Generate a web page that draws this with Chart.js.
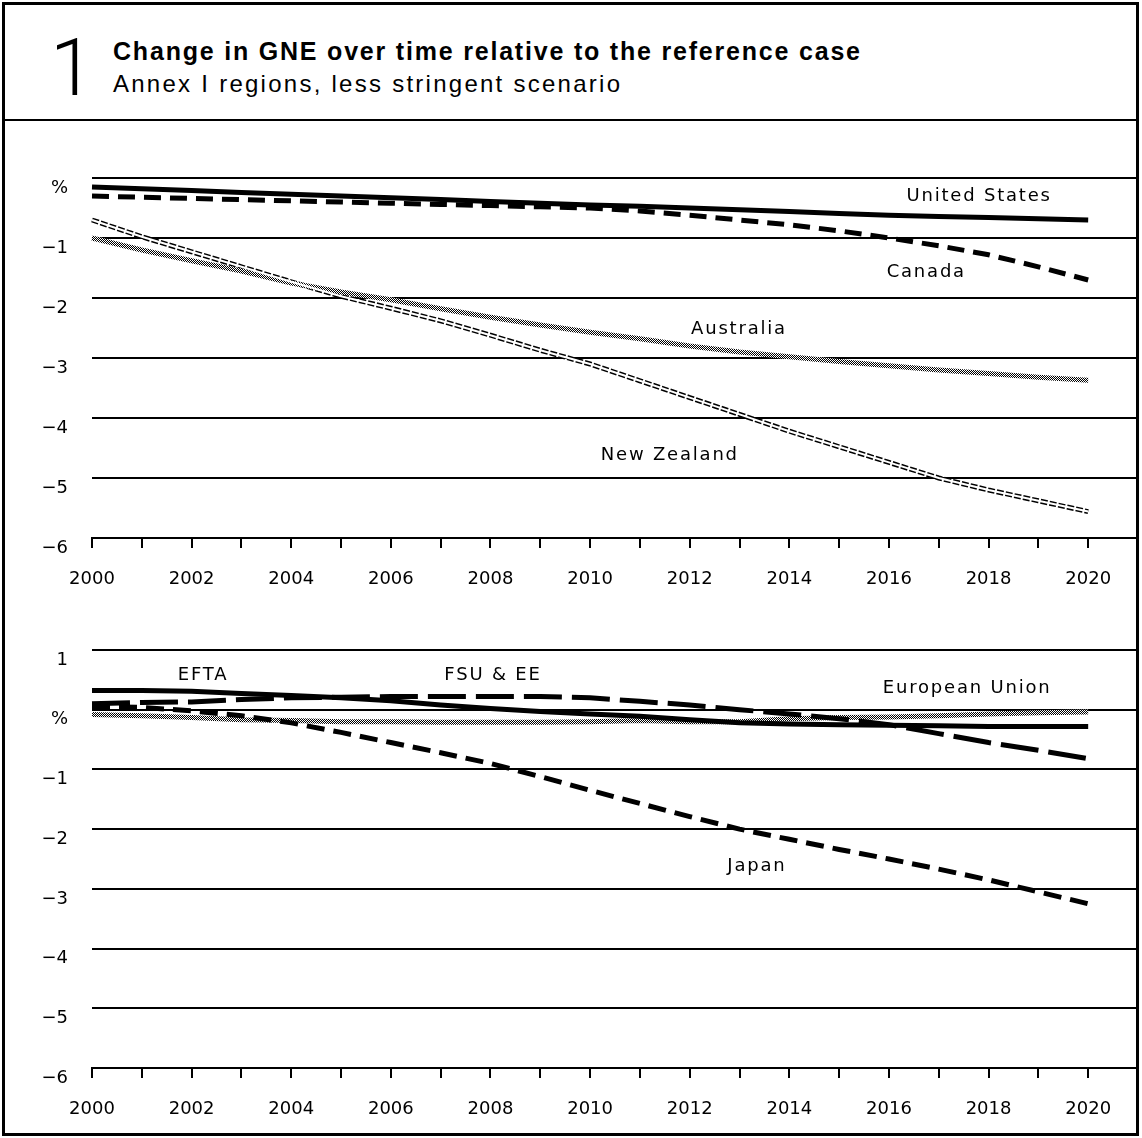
<!DOCTYPE html>
<html>
<head>
<meta charset="utf-8">
<script src="https://cdn.jsdelivr.net/npm/chart.js@4.4.0/dist/chart.umd.min.js"></script>
<style>
  html, body { margin:0; padding:0; background:#fff; }
  body { width:1142px; height:1138px; position:relative; overflow:hidden; font-family:"Liberation Sans", Arial, sans-serif; color:#000; }
  #frame { position:absolute; left:2px; top:2px; width:1137px; height:1134px; border:3px solid #000; box-sizing:border-box; }
  #hline { position:absolute; left:2px; top:119px; width:1137px; height:2px; background:#000; }
  #num { position:absolute; left:50px; top:28px; font-family:"Roboto", "Liberation Sans", sans-serif; font-weight:300; font-size:80px; line-height:80px; }
  #title { position:absolute; left:113px; top:39px; font-weight:bold; font-size:25px; line-height:25px; white-space:nowrap; }
  #subtitle { position:absolute; left:113px; top:72px; font-size:24px; line-height:24px; white-space:nowrap; }
  .box { position:absolute; left:3px; width:1133px; }
  #topBox { top:122px; height:480px; }
  #botBox { top:612px; height:522px; }
</style>
</head>
<body>
<div id="frame"></div>
<div id="hline"></div>
<div id="num">1</div>
<div id="title">Change in GNE over time relative to the reference case</div>
<div id="subtitle">Annex I regions, less stringent scenario</div>
<div class="box" id="topBox"><canvas id="topChart" width="1133" height="480"></canvas></div>
<div class="box" id="botBox"><canvas id="botChart" width="1133" height="522"></canvas></div>
<script>
// ---------- data ----------
const years = [2000,2001,2002,2003,2004,2005,2006,2007,2008,2009,2010,2011,2012,2013,2014,2015,2016,2017,2018,2019,2020];

// Top panel (% change in GNE)
const unitedStates = [-0.15,-0.18,-0.21,-0.24,-0.27,-0.30,-0.33,-0.36,-0.39,-0.42,-0.45,-0.47,-0.50,-0.53,-0.56,-0.59,-0.62,-0.64,-0.66,-0.68,-0.70];
const canada       = [-0.30,-0.32,-0.34,-0.36,-0.38,-0.40,-0.42,-0.44,-0.46,-0.48,-0.50,-0.55,-0.62,-0.70,-0.78,-0.88,-1.00,-1.13,-1.28,-1.48,-1.70];
const australia    = [-1.00,-1.20,-1.38,-1.55,-1.75,-1.90,-2.03,-2.18,-2.32,-2.45,-2.57,-2.68,-2.80,-2.90,-2.98,-3.06,-3.13,-3.20,-3.26,-3.32,-3.37];
const newZealand   = [-0.70,-0.98,-1.23,-1.48,-1.73,-1.97,-2.17,-2.38,-2.62,-2.87,-3.10,-3.38,-3.66,-3.94,-4.22,-4.48,-4.74,-5.00,-5.20,-5.38,-5.56];

// Bottom panel
const efta         = [0.32,0.32,0.31,0.27,0.24,0.20,0.15,0.08,0.02,-0.03,-0.07,-0.11,-0.17,-0.22,-0.24,-0.25,-0.26,-0.27,-0.28,-0.28,-0.28];
const fsuEE        = [0.10,0.12,0.13,0.17,0.20,0.21,0.22,0.22,0.22,0.22,0.20,0.14,0.08,0.00,-0.07,-0.15,-0.25,-0.40,-0.55,-0.68,-0.82];
const europeanUnion= [-0.08,-0.10,-0.13,-0.17,-0.18,-0.20,-0.20,-0.21,-0.21,-0.21,-0.20,-0.18,-0.20,-0.20,-0.15,-0.13,-0.12,-0.10,-0.07,-0.05,-0.04];
const japan        = [0.05,0.04,-0.02,-0.10,-0.22,-0.38,-0.55,-0.72,-0.90,-1.12,-1.35,-1.57,-1.79,-2.00,-2.17,-2.34,-2.50,-2.67,-2.85,-3.05,-3.25];

// Tick values / labels
const topYTicks = [0,-1,-2,-3,-4,-5,-6];
const botYTicks = [1,0,-1,-2,-3,-4,-5,-6];
const xTickYears = years;
const zeroLabel = '%';

// Series label names
const topNames = ['United States','Canada','Australia','New Zealand'];
const botNames = ['EFTA','FSU & EE','European Union','Japan'];
</script>
<script>
// fit header text widths
function fitText(id, target){
  const el = document.getElementById(id);
  const n = el.textContent.length;
  const w = el.getBoundingClientRect().width;
  el.style.letterSpacing = ((target - w) / (n - 1)) + 'px';
}
fitText('title', 747);
fitText('subtitle', 507);

function pts(vals){ return years.map((y,i)=>({x:y, y:vals[i]})); }

function dither(){
  const c = document.createElement('canvas'); c.width = 2; c.height = 2;
  const g = c.getContext('2d');
  g.fillStyle = '#fff'; g.fillRect(0,0,2,2);
  g.fillStyle = '#000'; g.fillRect(0,0,1,1); g.fillRect(1,1,1,1);
  return g.createPattern(c, 'repeat');
}

const labelPlugin = {
  id: 'seriesLabels',
  afterDatasetsDraw(chart, args, opts){
    const {ctx} = chart; const xs = chart.scales.x, ys = chart.scales.y;
    ctx.save();
    ctx.font = '18px "DejaVu Sans", sans-serif';
    if ('letterSpacing' in ctx) ctx.letterSpacing = '1.8px';
    ctx.fillStyle = '#000'; ctx.textAlign = 'center'; ctx.textBaseline = 'middle';
    (opts.items || []).forEach(it => ctx.fillText(it.text, xs.getPixelForValue(it.x), ys.getPixelForValue(it.y)));
    ctx.restore();
  }
};

function lineDs(label, vals, style){
  return Object.assign({
    label, data: pts(vals), borderColor:'#000', borderWidth:5, pointRadius:0,
    fill:false, tension:0, borderCapStyle:'butt', borderJoinStyle:'miter', clip:false
  }, style);
}

function makeOptions(yMin, yMax, yTicks, padTop, xHeight, items){
  return {
    responsive:false, animation:false, devicePixelRatio:1,
    layout:{ padding:{ top:padTop, left:0, right:0, bottom:0 } },
    plugins:{ legend:{display:false}, tooltip:{enabled:false}, seriesLabels:{ items } },
    scales:{
      x:{
        type:'linear', min:2000, max:2020.96,
        afterBuildTicks: s => { s.ticks = xTickYears.map(v => ({value:v})); },
        afterFit: s => { s.height = xHeight; },
        ticks:{ autoSkip:false, maxRotation:0, color:'#000', padding:21,
          font:{ family:'"DejaVu Sans", sans-serif', size:18 },
          callback: v => (v % 2 === 0 ? String(v) : '') },
        grid:{ drawOnChartArea:false, drawTicks:true, tickLength:10, color:'#000', lineWidth:2 },
        border:{ display:true, color:'#000', width:2 }
      },
      y:{
        type:'linear', min:yMin, max:yMax,
        afterBuildTicks: s => { s.ticks = yTicks.map(v => ({value:v})); },
        afterFit: s => { s.width = 89; },
        ticks:{ color:'#000', padding:24, labelOffset:10,
          font:{ family:'"DejaVu Sans", sans-serif', size:18 },
          callback: v => (v === 0 ? zeroLabel : (v < 0 ? '\u2212' + (-v) : String(v))) },
        grid:{ drawTicks:false, color:'#000', lineWidth:2 },
        border:{ display:false }
      }
    }
  };
}

const pat = dither();

new Chart(document.getElementById('topChart'), {
  type:'line',
  data:{ datasets:[
    lineDs(topNames[0], unitedStates, { order:0 }),
    lineDs(topNames[1], canada, { borderDash:[17,9], order:1 }),
    lineDs(topNames[2], australia, { borderColor:pat, borderWidth:5, order:3 }),
    lineDs(topNames[3]+' core', newZealand, { borderColor:'#fff', borderWidth:2, order:2 }),
    lineDs(topNames[3], newZealand, { borderColor:'#000', borderWidth:5, borderDash:[7,2], order:4 })
  ]},
  options: makeOptions(-6, 0, topYTicks, 56, 64, [
    {text:topNames[0], x:2017.81, y:-0.30},
    {text:topNames[1], x:2016.75, y:-1.58},
    {text:topNames[2], x:2012.99, y:-2.53},
    {text:topNames[3], x:2011.60, y:-4.62}
  ]),
  plugins:[labelPlugin]
});

new Chart(document.getElementById('botChart'), {
  type:'line',
  data:{ datasets:[
    lineDs(botNames[0], efta, { order:0 }),
    lineDs(botNames[1], fsuEE, { borderDash:[38,10], order:1 }),
    lineDs(botNames[2], europeanUnion, { borderColor:pat, borderWidth:5, order:3 }),
    lineDs(botNames[3], japan, { borderDash:[18,9], order:2 })
  ]},
  options: makeOptions(-6, 1, botYTicks, 38, 66, [
    {text:botNames[0], x:2002.23, y:0.58},
    {text:botNames[1], x:2008.05, y:0.58},
    {text:botNames[2], x:2017.57, y:0.36},
    {text:botNames[3], x:2013.35, y:-2.62}
  ]),
  plugins:[labelPlugin]
});
</script>
</body>
</html>
